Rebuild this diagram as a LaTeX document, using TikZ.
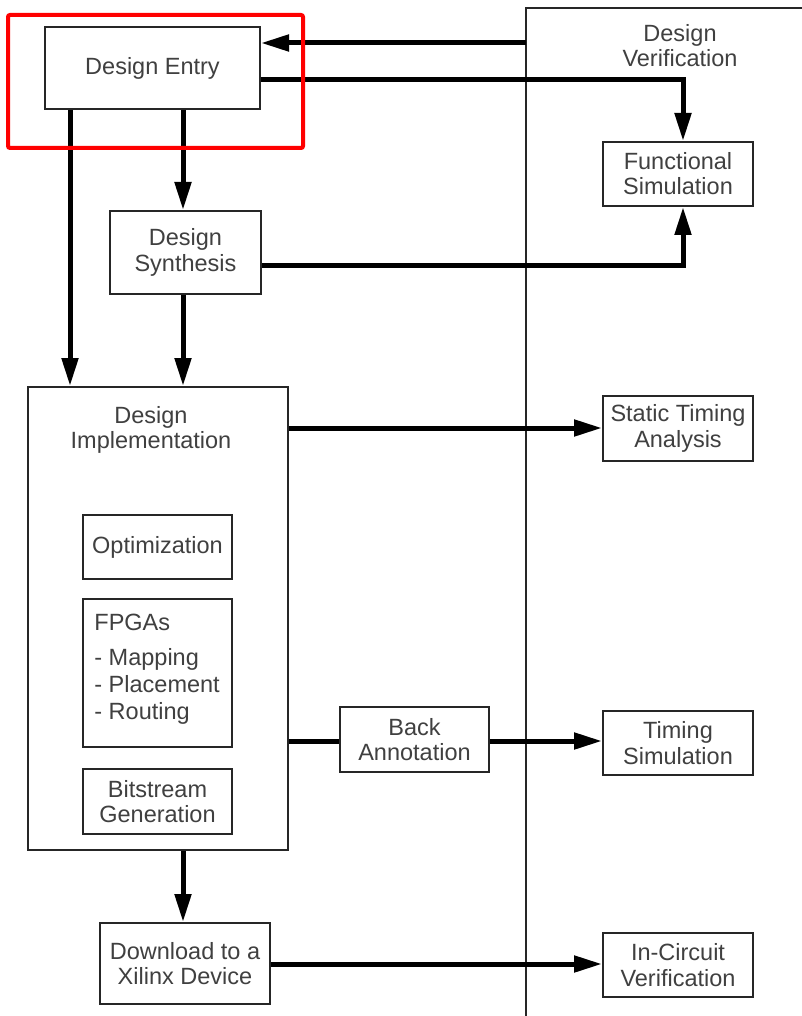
\documentclass[tikz,border=0pt]{standalone}
\usepackage{fontspec}
\setmainfont{Liberation Sans}
\usetikzlibrary{arrows.meta}
\begin{document}
\begin{tikzpicture}[x=0.5pt,y=-0.5pt,
  txt/.style={text=black!75, font=\fontsize{11.75}{12.6}\selectfont, align=center, inner sep=0pt},
  box/.style={txt, draw=black!85, line width=1pt, fill=white},
  wide/.style={minimum width=75pt, minimum height=32pt},
  inner/.style={minimum width=74.5pt},
  flow/.style={line width=2.5pt, -{Triangle[length=14pt,width=8pt]}},
  link/.style={line width=2.5pt},
  divider/.style={line width=1pt, draw=black!85}]
\useasboundingbox (0,0) rectangle (802,1016);

% verification column border
\coordinate (colbot) at (526,1016);
\coordinate (coltop) at (526,8);
\coordinate (colright) at (802,8);
\draw[divider] (colbot) -- (coltop) -- (colright);
\node[txt] (ver) at (680,46) {Design\\Verification};

% flow boxes
\node[box, minimum width=107.5pt, minimum height=41pt] (entry) at (152.5,68) {Design Entry};
\node[box, minimum width=75.5pt, minimum height=41.5pt] (synth) at (185.5,252.5) {Design\\Synthesis};
\node[box, minimum width=130pt, minimum height=231.5pt] (impl) at (158,618.5) {};
\node[txt] (impllbl) at (151,430) {Design\\Implementation};
\node[box, inner, minimum height=32pt] (opt) at (157.5,547) {Optimization};
\node[box, inner, minimum height=74pt] (fpga) at (157.5,673) {};
\node[txt, anchor=base west] (fpga1) at (94,630) {FPGAs};
\node[txt, anchor=base west] (fpga2) at (94,665) {- Mapping};
\node[txt, anchor=base west] (fpga3) at (94,692) {- Placement};
\node[txt, anchor=base west] (fpga4) at (94,719) {- Routing};
\node[box, inner, minimum height=32.5pt] (bits) at (157.5,801.5) {Bitstream\\Generation};
\node[box, minimum width=85pt, minimum height=40.5pt] (down) at (185,963.5) {Download to a\\Xilinx Device};
\node[box, inner, minimum height=32.5pt] (back) at (414.5,739.5) {Back\\Annotation};

% verification boxes
\node[box, wide] (func) at (678,174) {Functional\\Simulation};
\node[box, wide, minimum height=32.5pt] (sta) at (678,428.5) {Static Timing\\Analysis};
\node[box, wide] (tsim) at (678,743) {Timing\\Simulation};
\node[box, wide] (icv) at (678,965) {In-Circuit\\Verification};

% connectors
\coordinate (fb) at (526,43);
\draw[flow] (fb) -- (entry.east |- fb);
\draw[flow] (entry.east |- 0,80) -| ([xshift=2.5pt]func.north);
\draw[flow] (synth.east |- 0,265) -| ([xshift=2.5pt]func.south);
\draw[flow] (entry.south -| 183,0) -- (synth.north -| 183,0);
\draw[flow] (entry.south -| 70,0) -- (impl.north -| 70,0);
\draw[flow] (synth.south -| 183,0) -- (impl.north -| 183,0);
\draw[flow] (impl.east |- 0,428) -- (sta.west |- 0,428);
\draw[link] (impl.east |- 0,741) -- (back.west |- 0,741);
\draw[flow] (back.east |- 0,741) -- (tsim.west |- 0,741);
\draw[flow] (impl.south -| 183,0) -- (down.north -| 183,0);
\draw[flow] (down.east |- 0,964) -- (icv.west |- 0,964);

% highlight frame
\node[draw=red, line width=2pt, rounded corners=1pt, inner sep=0pt,
      minimum width=147.5pt, minimum height=66.5pt] (hl) at (155.5,81.5) {};
\end{tikzpicture}
\end{document}
